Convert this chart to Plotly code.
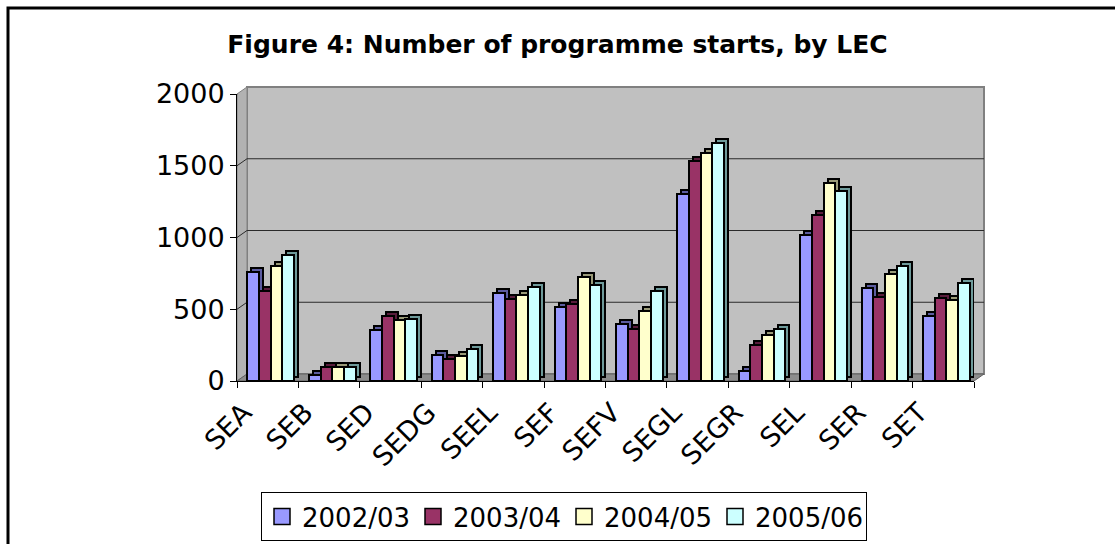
import plotly.graph_objects as go

# ---- data ----
categories = ["SEA", "SEB", "SED", "SEDG", "SEEL", "SEF", "SEFV", "SEGL", "SEGR", "SEL", "SER", "SET"]
s_2002_03 = [760, 40, 355, 180, 615, 515, 395, 1300, 70, 1020, 645, 455]
s_2003_04 = [630, 100, 450, 155, 570, 540, 365, 1530, 250, 1160, 585, 580]
s_2004_05 = [800, 100, 425, 175, 600, 725, 485, 1590, 320, 1380, 745, 565]
s_2005_06 = [880, 100, 435, 220, 655, 670, 630, 1660, 365, 1325, 800, 685]
series_names = ["2002/03", "2003/04", "2004/05", "2005/06"]
y_ticks = [0, 500, 1000, 1500, 2000]

series = [s_2002_03, s_2003_04, s_2004_05, s_2005_06]
front_colors = ["#9999FF", "#993366", "#FFFFCC", "#CCFFFF"]
side_colors = ["#5C5CA0", "#5A1C3C", "#9A9A78", "#6E9A9A"]

FONT = "DejaVu Sans"
W, H = 1115, 544
L, R, T, B = 237, 974, 94, 381          # front-plane plot box in pixels
pw, ph = R - L, B - T
DX, DY = 10, 7                          # 3D depth in pixels
dxp, dyp = DX / pw, DY / ph             # in paper units
YMAX = 2000
depth_units = 4 * YMAX / ph             # ~4px of rise for bar tops

bar_w = 0.19
shift = 0.05
side_dx = 0.065

fig = go.Figure()

# shadow (side/top) faces first, then front faces
for i, vals in enumerate(series):
    off = -2 * bar_w + i * bar_w + shift
    fig.add_trace(go.Bar(
        x=categories, y=vals, base=depth_units, width=bar_w, offset=off + side_dx,
        marker=dict(color=side_colors[i], line=dict(color="black", width=2)),
        showlegend=False, hoverinfo="skip"))
for i, vals in enumerate(series):
    off = -2 * bar_w + i * bar_w + shift
    fig.add_trace(go.Bar(
        x=categories, y=vals, width=bar_w, offset=off, name=series_names[i],
        marker=dict(color=front_colors[i], line=dict(color="black", width=2)),
        showlegend=False))

# legend proxies with larger square swatches
for i, nm in enumerate(series_names):
    fig.add_trace(go.Scatter(
        x=[None], y=[None], mode="markers", name=nm,
        marker=dict(symbol="square", size=16, color=front_colors[i],
                    line=dict(color="black", width=1.5))))

shapes = []
# back wall
shapes.append(dict(type="rect", xref="paper", yref="paper", x0=dxp, x1=1 + dxp,
                   y0=dyp, y1=1 + dyp, fillcolor="#C0C0C0",
                   line=dict(color="#808080", width=2), layer="below"))
# side wall
shapes.append(dict(type="path", xref="paper", yref="paper",
                   path=f"M 0,0 L 0,1 L {dxp},{1 + dyp} L {dxp},{dyp} Z",
                   fillcolor="#B2B2B2", line=dict(color="#808080", width=1), layer="below"))
# floor
shapes.append(dict(type="path", xref="paper", yref="paper",
                   path=f"M 0,0 L 1,0 L {1 + dxp},{dyp} L {dxp},{dyp} Z",
                   fillcolor="#8C8C8C", line=dict(color="#606060", width=1), layer="below"))
# gridlines on the back wall and diagonals on the side wall
for v in y_ticks[1:]:
    if v < YMAX:
        shapes.append(dict(type="line", xref="paper", yref="y", ysizemode="pixel", yanchor=v,
                           x0=dxp, x1=1 + dxp, y0=DY, y1=DY,
                           line=dict(color="#2a2a2a", width=1), layer="below"))
    shapes.append(dict(type="line", xref="paper", yref="y", ysizemode="pixel", yanchor=v,
                       x0=0, x1=dxp, y0=0, y1=DY,
                       line=dict(color="#2a2a2a", width=1), layer="below"))
# outer chart border
shapes.append(dict(type="rect", xref="paper", yref="paper",
                   x0=(8 - L) / pw, x1=(W + 10 - L) / pw,
                   y0=(B - (H + 10)) / ph, y1=(B - 8) / ph,
                   line=dict(color="black", width=3), fillcolor="rgba(0,0,0,0)", layer="above"))

fig.update_layout(
    width=W, height=H,
    margin=dict(l=L, r=W - R, t=T, b=H - B, pad=0),
    paper_bgcolor="white", plot_bgcolor="rgba(0,0,0,0)",
    barmode="overlay", bargap=0,
    shapes=shapes,
    title=dict(text="<b>Figure 4: Number of programme starts, by LEC</b>",
               font=dict(family=FONT, size=25, color="black"),
               x=0.5, xref="container", xanchor="center",
               y=1 - 44 / H, yref="container", yanchor="middle"),
    font=dict(family=FONT, color="black"),
    xaxis=dict(type="category", categoryorder="array", categoryarray=categories,
               range=[-0.5, len(categories) - 0.5], tickson="boundaries",
               ticks="outside", ticklen=6, tickcolor="black", tickwidth=1,
               showline=True, linecolor="black", linewidth=1, showgrid=False,
               tickangle=-45, ticklabelshift=-24, ticklabelstandoff=4,
               tickfont=dict(family=FONT, size=27, color="black")),
    yaxis=dict(range=[0, YMAX], tickvals=y_ticks, ticks="outside", ticklen=6,
               tickcolor="black", showline=True, linecolor="black", linewidth=1,
               showgrid=False, zeroline=False,
               tickfont=dict(family=FONT, size=27, color="black")),
    legend=dict(orientation="h", x=(564 - L) / pw, xanchor="center", xref="paper",
                y=1 - 492 / H, yanchor="top", yref="container",
                bordercolor="black", borderwidth=1,
                entrywidth=106, entrywidthmode="pixels",
                font=dict(family=FONT, size=26, color="black"), bgcolor="white"),
)

fig.write_html("out.html")
